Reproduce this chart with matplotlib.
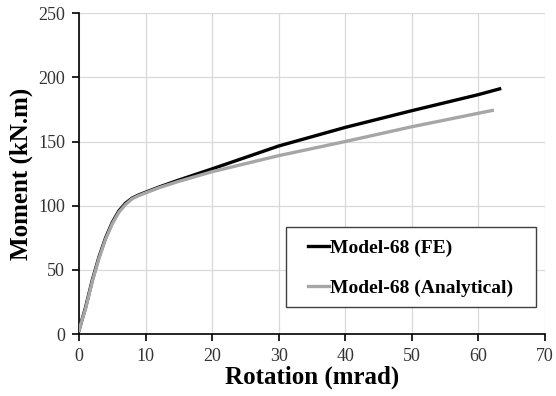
import matplotlib
matplotlib.use('Agg')
import matplotlib.pyplot as plt
from matplotlib.patches import Rectangle

# moment-rotation curves
rot_fe = [0, 1, 2, 3, 4, 5, 6, 7, 8, 9, 10, 12, 15, 20, 30, 40, 50, 60, 63.2]
mom_fe = [3, 21, 42, 60, 75, 87, 96, 102, 106, 108.5, 110.5, 114.5, 120, 128.7, 146.5, 161, 174, 186.5, 191]
rot_an = [0, 1, 2, 3, 4, 5, 6, 7, 8, 9, 10, 12, 15, 20, 30, 40, 50, 60, 62.1]
mom_an = [3, 20, 41, 59, 74, 86, 95, 101, 105.5, 108, 110, 114, 119, 126.5, 139, 150, 161.5, 172, 174.2]

plt.rcParams['font.family'] = ['Liberation Serif', 'DejaVu Serif']

fig = plt.figure(figsize=(5.56, 3.96), dpi=100)
ax = fig.add_axes([0.142, 0.156, 0.838, 0.811])

ax.plot(rot_fe, mom_fe, color='black', lw=2.4, label='Model-68 (FE)', zorder=3)
ax.plot(rot_an, mom_an, color='#a6a6a6', lw=2.4, label='Model-68 (Analytical)', zorder=3)

ax.set_xlim(0, 70)
ax.set_ylim(0, 250)
ax.set_xticks(range(0, 71, 10))
ax.set_yticks(range(0, 251, 50))
ax.grid(True, color='#d9d9d9', lw=0.9)
ax.set_axisbelow(True)
for s in ['top', 'right']:
    ax.spines[s].set_visible(False)
for s in ['left', 'bottom']:
    ax.spines[s].set_linewidth(1.2)
ax.tick_params(direction='out', length=5, width=1.2, labelsize=13, colors='black', pad=5)
for lab in ax.get_xticklabels() + ax.get_yticklabels():
    lab.set_color('#333333')

ax.set_xlabel('Rotation (mrad)', fontsize=18, fontweight='bold', labelpad=0)
ax.set_ylabel('Moment (kN.m)', fontsize=18, fontweight='bold', labelpad=4)

# legend box drawn separately so the padding matches the original
ax.add_patch(Rectangle((0.444, 0.085), 0.537, 0.249, transform=ax.transAxes,
                       facecolor='white', edgecolor='#404040', lw=1.0, zorder=4))
leg = ax.legend(loc='upper left', bbox_to_anchor=(0.491, 0.297),
                prop={'weight': 'bold', 'size': 14}, frameon=False,
                handlelength=1.1, handletextpad=0.05,
                labelspacing=1.17, borderpad=0, borderaxespad=0)
leg.set_zorder(5)

fig.savefig('out.png', dpi=100)
